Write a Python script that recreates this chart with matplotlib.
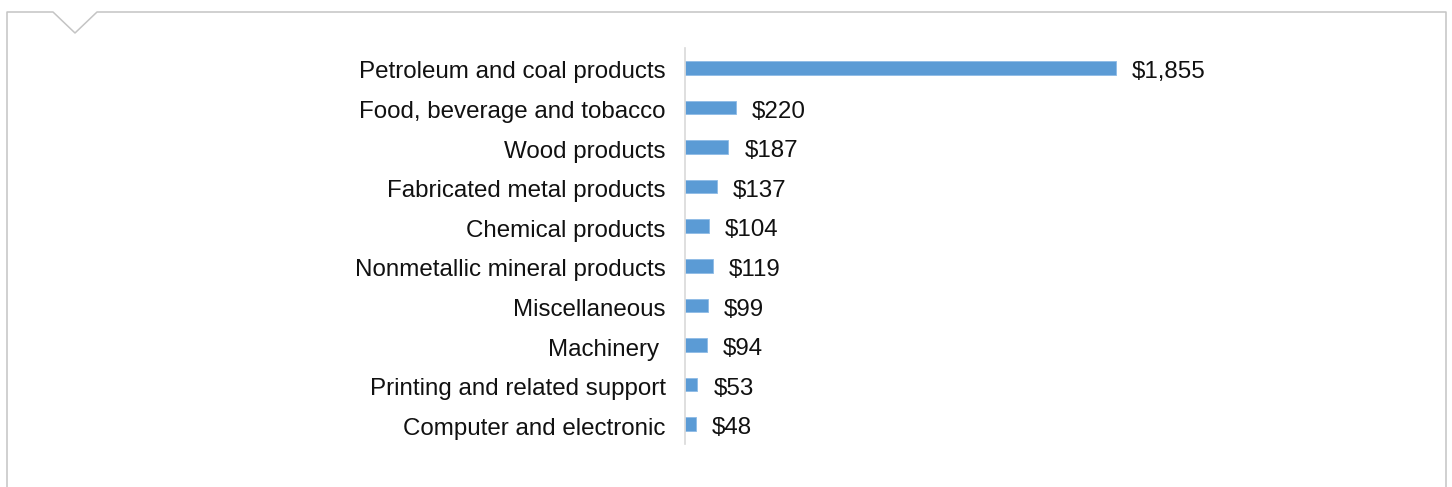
import matplotlib
matplotlib.use("Agg")
import matplotlib.pyplot as plt
from matplotlib.lines import Line2D
import matplotlib.transforms as mtransforms

categories = ["Petroleum and coal products", "Food, beverage and tobacco", "Wood products",
              "Fabricated metal products", "Chemical products", "Nonmetallic mineral products",
              "Miscellaneous", "Machinery ", "Printing and related support", "Computer and electronic"]
values = [1855, 220, 187, 137, 104, 119, 99, 94, 53, 48]
value_labels = ["$1,855", "$220", "$187", "$137", "$104", "$119", "$99", "$94", "$53", "$48"]

W, H = 1452, 487
plt.rcParams['font.family'] = ['Liberation Sans', 'DejaVu Sans']
fig = plt.figure(figsize=(W/100, H/100), dpi=100)
FS = 17.4

# axes placement in pixels
ax_left, ax_right, ax_top, ax_bottom = 685, 1400, 48, 444
ax = fig.add_axes([ax_left/W, (H-ax_bottom)/H, (ax_right-ax_left)/W, (ax_bottom-ax_top)/H])
px_per_unit = 0.2324
ax.set_xlim(0, (ax_right-ax_left)/px_per_unit)
ax.set_ylim(len(categories)-0.5, -0.5)

y = list(range(len(categories)))
ax.barh(y, values, height=0.34, color="#5B9BD5", edgecolor="#8DBBE6", linewidth=0.6)

for yi, v, lab in zip(y, values, value_labels):
    ax.annotate(lab, (v, yi), xytext=(11.5, -3), textcoords="offset points",
                va="center", ha="left", fontsize=FS, color="#111111")

ax.set_yticks(y)
ax.set_yticklabels(categories, fontsize=FS, color="#111111")
ax.tick_params(axis='y', length=0, pad=14)
shift = mtransforms.ScaledTranslation(0, -1.5/72, fig.dpi_scale_trans)
for t in ax.get_yticklabels():
    t.set_transform(t.get_transform() + shift)
ax.set_xticks([])
for s in ["top", "right", "bottom"]:
    ax.spines[s].set_visible(False)
ax.spines["left"].set_color("#d9d9d9")
ax.spines["left"].set_linewidth(1.2)

# frame with notch
xs = [7, 7, 53, 75, 97, 1446, 1446]
ys = [487, 12, 12, 33, 12, 12, 487]
fig.add_artist(Line2D([x/W for x in xs], [1 - yy/H for yy in ys], transform=fig.transFigure,
                      color="#c4c4c4", linewidth=1.1))

fig.savefig("out.png", dpi=100)
